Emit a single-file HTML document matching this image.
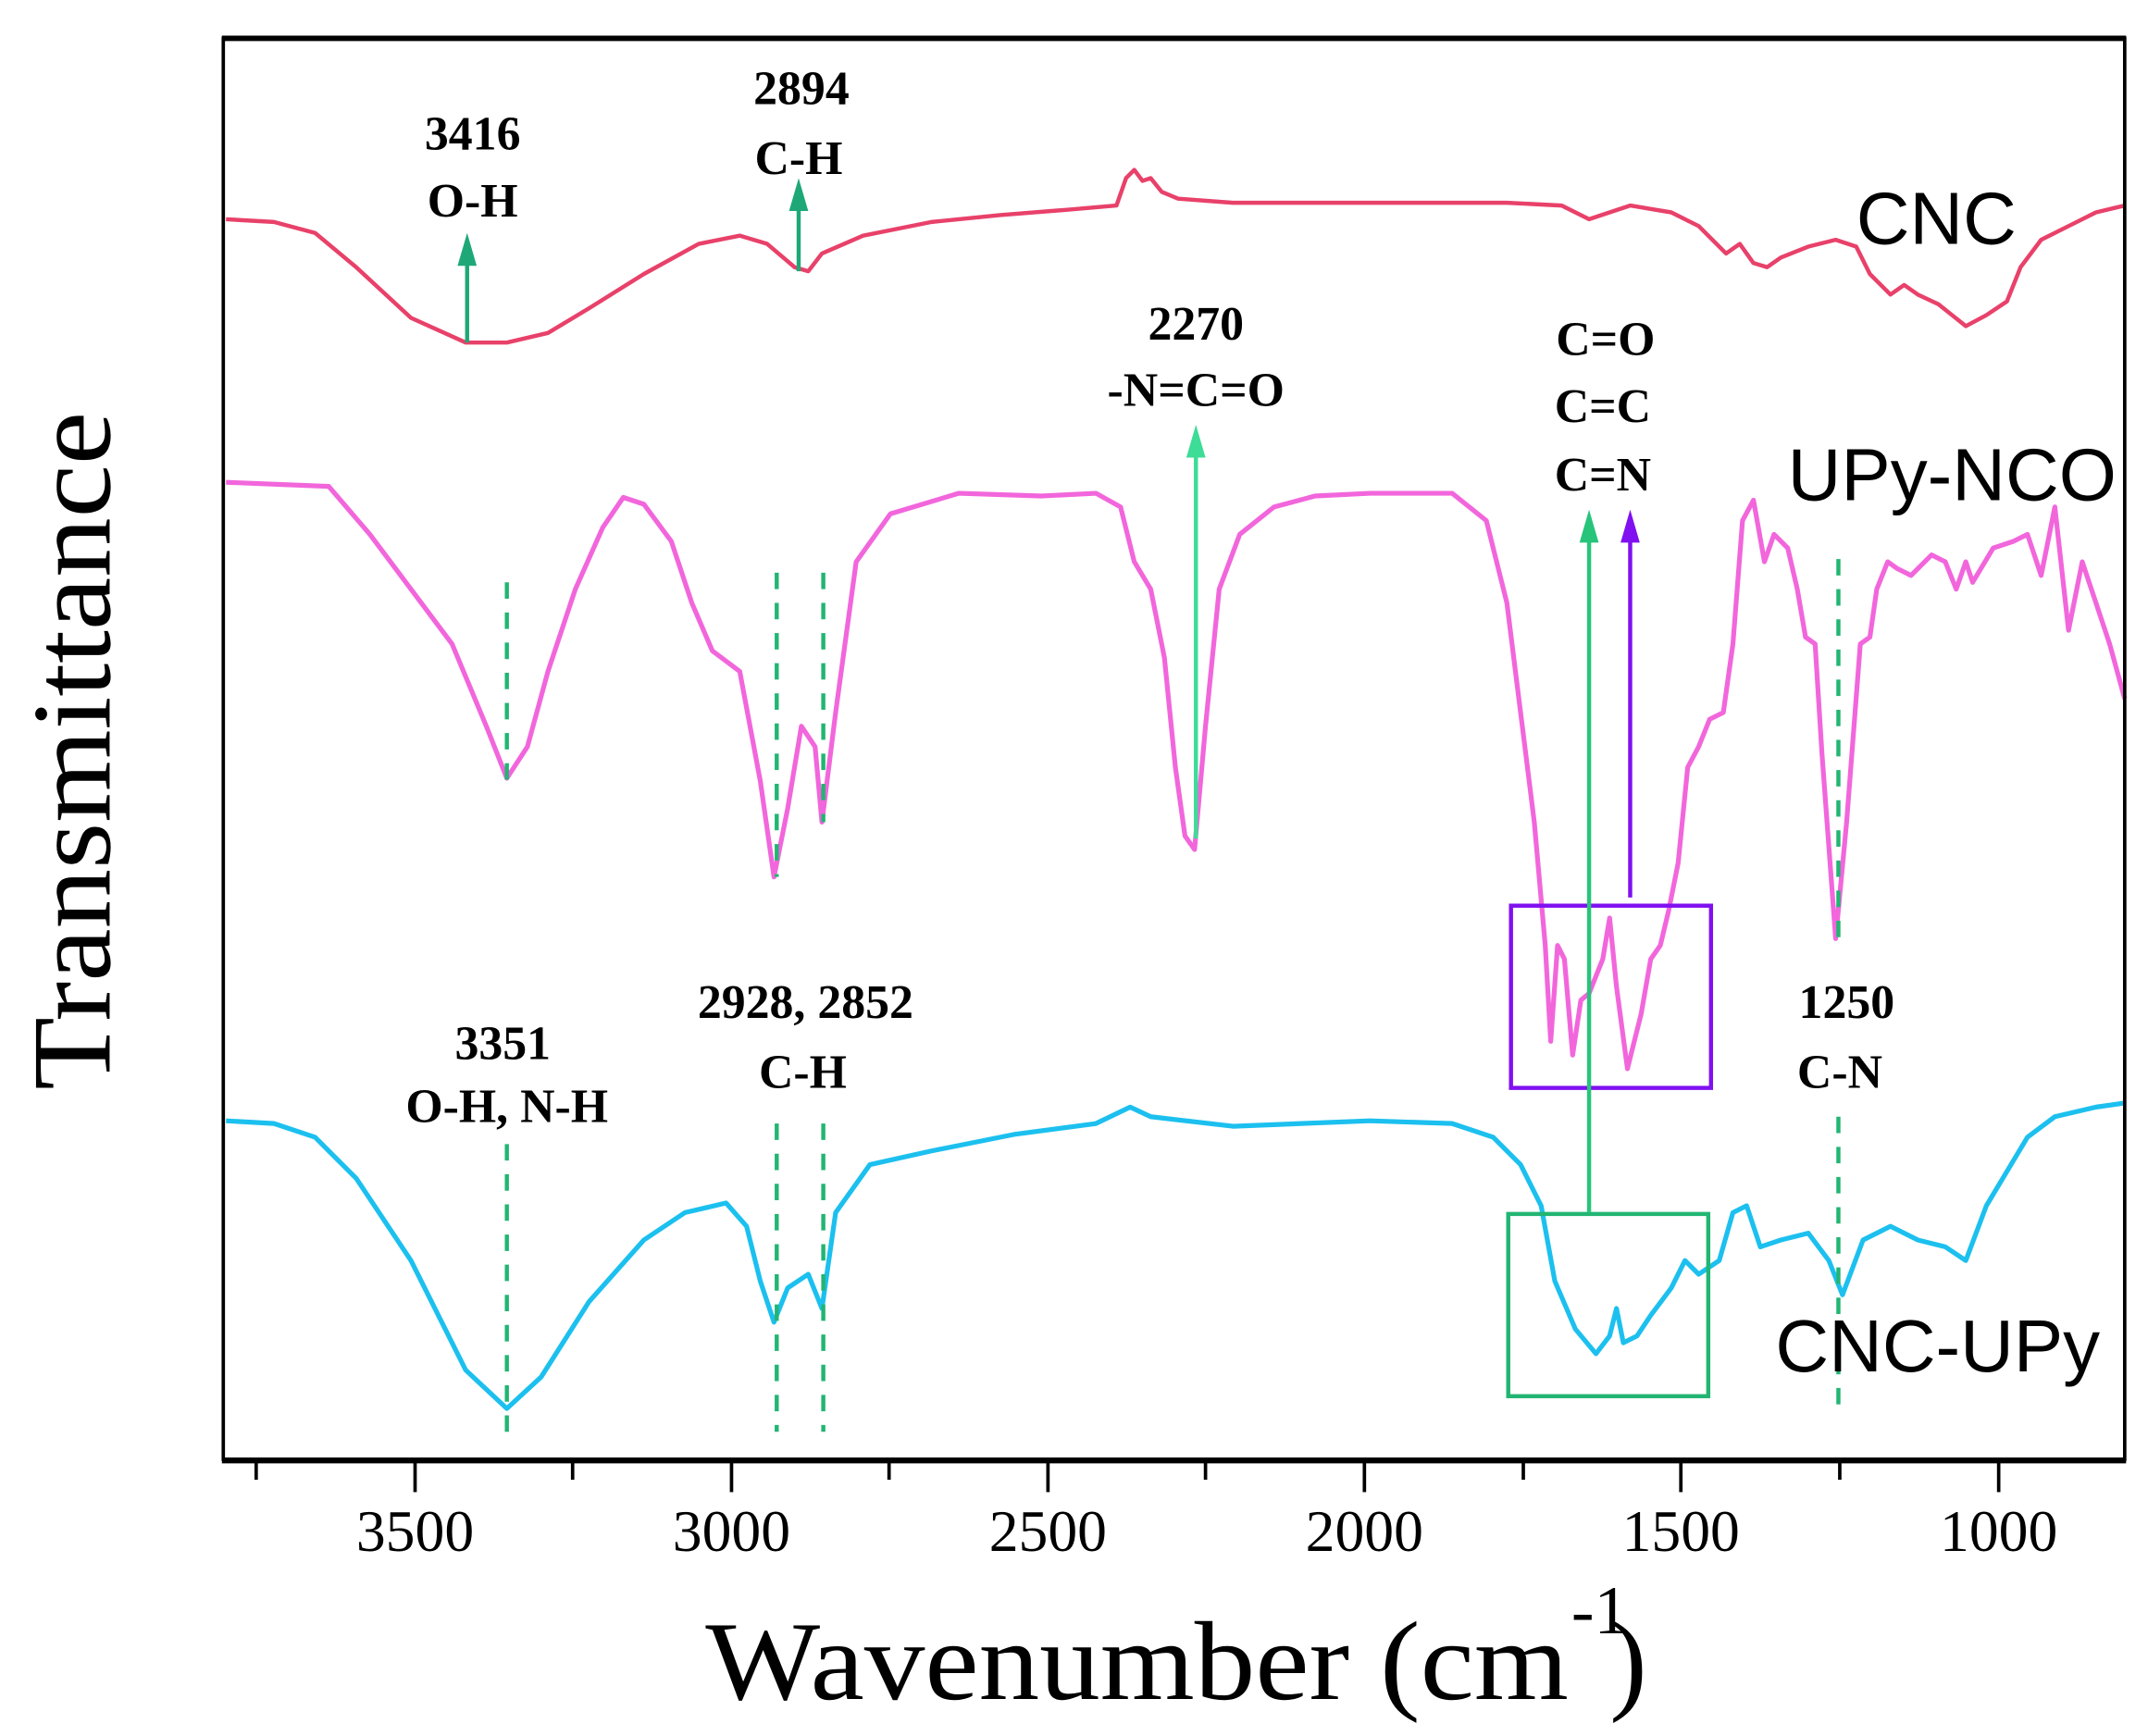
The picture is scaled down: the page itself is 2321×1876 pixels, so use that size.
<!DOCTYPE html>
<html><head><meta charset="utf-8"><style>
html,body{margin:0;padding:0;background:#fff;}
svg{display:block;}
.t{font-family:"Liberation Serif",serif;}
.b{font-family:"Liberation Serif",serif;font-weight:bold;font-size:35px;text-anchor:middle;}
.s{font-family:"Liberation Sans",sans-serif;font-size:54px;}
</style></head><body>
<svg width="2321" height="1876" viewBox="0 0 1568 1267" preserveAspectRatio="none" xmlns="http://www.w3.org/2000/svg">
<rect width="1568" height="1267" fill="#fff"/>
<polyline fill="none" stroke="#e8416a" stroke-width="3" stroke-linejoin="round" points="165,160 200,162 230,170 260,195 300,232 340,250 370,250 400,243 430,225 470,200 510,178 540,172 560,178 580,195 590,198 600,185 630,172 680,162 730,157 780,153 815,150 822,130 828,124 834,132 840,130 848,140 860,145 900,148 1000,148 1100,148 1140,150 1160,160 1175,155 1190,150 1220,155 1240,165 1260,185 1270,178 1280,192 1290,195 1300,188 1320,180 1340,175 1355,180 1365,200 1380,215 1390,208 1400,215 1415,222 1425,230 1435,238 1450,230 1465,220 1475,195 1490,175 1510,165 1530,155 1551,150"/>
<polyline fill="none" stroke="#f266dc" stroke-width="3.5" stroke-linejoin="round" points="165,352 240,355 270,390 300,430 330,470 355,530 370,568 385,545 400,490 420,430 440,385 455,363 470,368 490,395 505,440 520,475 540,490 555,570 565,640 575,590 585,530 595,545 600,600 610,520 625,410 650,375 700,360 760,362 800,360 818,370 828,410 840,430 850,480 858,560 865,610 872,620 880,530 890,430 905,390 930,370 960,362 1000,360 1060,360 1085,380 1100,440 1110,520 1120,600 1128,690 1132,760 1137,690 1142,700 1148,770 1154,730 1160,725 1170,700 1175,670 1180,720 1188,780 1198,740 1205,700 1212,690 1218,665 1225,630 1232,560 1240,545 1248,525 1258,520 1265,470 1272,380 1280,365 1288,410 1295,390 1305,400 1312,430 1318,465 1325,470 1330,550 1340,685 1348,600 1358,470 1365,465 1370,430 1378,410 1385,415 1395,420 1410,405 1420,410 1428,430 1435,410 1440,425 1455,400 1470,395 1480,390 1490,420 1500,370 1510,460 1520,410 1530,440 1540,470 1551,510"/>
<polyline fill="none" stroke="#1cc0ef" stroke-width="3.5" stroke-linejoin="round" points="165,818 200,820 230,830 260,860 300,920 340,1000 370,1028 395,1005 430,950 470,905 500,885 530,878 545,895 555,935 565,965 575,940 590,930 600,955 610,885 635,850 680,840 740,828 800,820 825,808 840,815 900,822 1000,818 1060,820 1090,830 1110,850 1125,880 1135,935 1150,970 1165,988 1175,975 1180,955 1185,980 1195,975 1205,960 1220,940 1230,920 1240,930 1255,920 1265,885 1275,880 1285,910 1300,905 1320,900 1335,920 1345,945 1360,905 1380,895 1400,905 1420,910 1435,920 1450,880 1465,855 1480,830 1500,815 1530,808 1551,805"/>
<g stroke="#22b573" stroke-width="3" stroke-dasharray="12,10" fill="none">
<line x1="370" y1="425" x2="370" y2="570"/><line x1="370" y1="835" x2="370" y2="1045"/>
<line x1="567" y1="418" x2="567" y2="640"/><line x1="567" y1="820" x2="567" y2="1045"/>
<line x1="601" y1="418" x2="601" y2="600"/><line x1="601" y1="820" x2="601" y2="1045"/>
<line x1="1342" y1="408" x2="1342" y2="685"/><line x1="1342" y1="815" x2="1342" y2="1035"/>
</g>
<rect x="1103" y="661" width="146" height="133" fill="none" stroke="#8010f0" stroke-width="3"/>
<rect x="1101" y="886" width="146" height="133" fill="none" stroke="#22b573" stroke-width="3"/>
<g stroke-width="3">
<line x1="341" y1="250" x2="341" y2="190" stroke="#1fa877"/><polygon points="334,194 348,194 341,170" fill="#1fa877"/>
<line x1="583" y1="198" x2="583" y2="150" stroke="#1fa877"/><polygon points="576,154 590,154 583,130" fill="#1fa877"/>
<line x1="873" y1="612" x2="873" y2="330" stroke="#3ddc97"/><polygon points="866,334 880,334 873,310" fill="#3ddc97"/>
<line x1="1160" y1="885" x2="1160" y2="392" stroke="#27c47a"/><polygon points="1153,396 1167,396 1160,372" fill="#27c47a"/>
<line x1="1190" y1="655" x2="1190" y2="392" stroke="#8010f0"/><polygon points="1183,396 1197,396 1190,372" fill="#8010f0"/>
</g>
<text class="b" x="345" y="109">3416</text><text class="b" x="345" y="158">O-H</text>
<text class="b" x="585" y="76">2894</text><text class="b" x="583" y="127">C-H</text>
<text class="b" x="873" y="248">2270</text><text class="b" x="873" y="296">-N=C=O</text>
<text class="b" x="1172" y="259">C=O</text><text class="b" x="1170" y="308">C=C</text><text class="b" x="1170" y="358">C=N</text>
<text class="b" x="367" y="773">3351</text><text class="b" x="370" y="819">O-H, N-H</text>
<text class="b" x="588" y="743">2928, 2852</text><text class="b" x="586" y="794">C-H</text>
<text class="b" x="1348" y="743">1250</text><text class="b" x="1343" y="794">C-N</text>
<text class="s" x="1355" y="178">CNC</text>
<text class="s" x="1305" y="365">UPy-NCO</text>
<text class="s" x="1296" y="1001">CNC-UPy</text>
<rect x="163" y="28" width="1388" height="1037" fill="none" stroke="#000" stroke-width="2.5"/>
<line x1="162" y1="28" x2="1552" y2="28" stroke="#000" stroke-width="4"/>
<line x1="162" y1="1066" x2="1552" y2="1066" stroke="#000" stroke-width="4"/>
<g stroke="#000" stroke-width="2.5">
<line x1="187" y1="1066" x2="187" y2="1080"/><line x1="303" y1="1066" x2="303" y2="1089"/>
<line x1="418" y1="1066" x2="418" y2="1080"/><line x1="534" y1="1066" x2="534" y2="1089"/>
<line x1="649" y1="1066" x2="649" y2="1080"/><line x1="765" y1="1066" x2="765" y2="1089"/>
<line x1="880" y1="1066" x2="880" y2="1080"/><line x1="996" y1="1066" x2="996" y2="1089"/>
<line x1="1112" y1="1066" x2="1112" y2="1080"/><line x1="1227" y1="1066" x2="1227" y2="1089"/>
<line x1="1343" y1="1066" x2="1343" y2="1080"/><line x1="1459" y1="1066" x2="1459" y2="1089"/>
</g>
<g class="t" font-size="43" text-anchor="middle">
<text x="303" y="1132">3500</text><text x="534" y="1132">3000</text><text x="765" y="1132">2500</text>
<text x="996" y="1132">2000</text><text x="1227" y="1132">1500</text><text x="1459" y="1132">1000</text>
</g>
<text class="t" font-size="82" x="80" y="548" text-anchor="middle" transform="rotate(-90 80 548)" textLength="495" lengthAdjust="spacingAndGlyphs">Transmittance</text>
<text class="t" font-size="82" x="515" y="1240" textLength="630" lengthAdjust="spacingAndGlyphs">Wavenumber (cm</text>
<text class="t" font-size="50" x="1147" y="1192">-1</text>
<text class="t" font-size="82" x="1175" y="1240">)</text>
</svg>
</body></html>
